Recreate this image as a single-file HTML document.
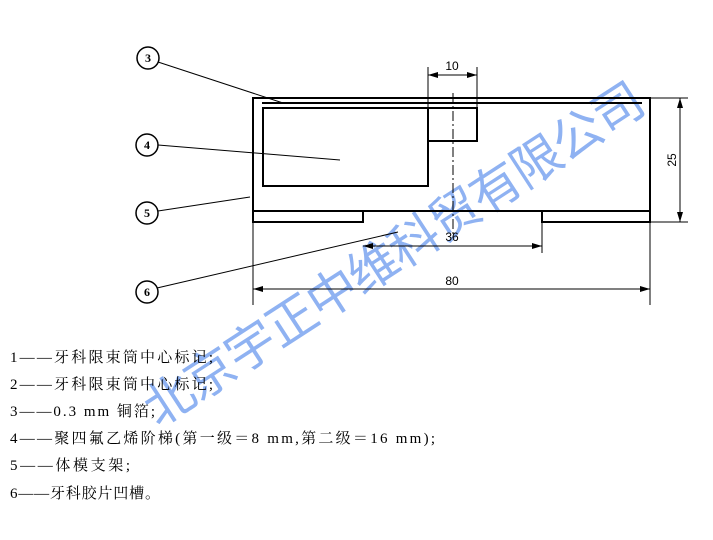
<!DOCTYPE html>
<html><head><meta charset="utf-8"><style>
html,body{margin:0;padding:0;background:#fff;width:713px;height:540px;overflow:hidden}
svg{display:block}
</style></head><body>
<svg width="713" height="540" xmlns="http://www.w3.org/2000/svg" font-family="'Liberation Serif','Noto Serif CJK SC',serif">
<defs><marker id="a" markerWidth="10" markerHeight="6" refX="10" refY="3" orient="auto-start-reverse" markerUnits="userSpaceOnUse"><path d="M0,0 L10,3 L0,6 z" fill="#000"/></marker></defs>
<text transform="translate(158,428) rotate(-33)" font-size="50" fill="#8fb2f2" font-family="'Noto Sans CJK SC',sans-serif" textLength="585" lengthAdjust="spacing">北京宇正中维科贸有限公司</text>
<g stroke="#000" fill="none">
<rect x="253" y="98" width="397" height="113" stroke-width="2"/>
<line x1="262" y1="103" x2="642" y2="103" stroke-width="2"/>
<rect x="263" y="108" width="165" height="78" stroke-width="2"/>
<rect x="428" y="108" width="49" height="33" stroke-width="2"/>
<polyline points="253,211 253,222 363,222 363,211" stroke-width="2"/>
<polyline points="542,211 542,222 650,222 650,211" stroke-width="2"/>
<line x1="453" y1="93" x2="453" y2="238" stroke-width="1" stroke-dasharray="10,3,2,3"/>
<g stroke-width="1">
<line x1="428" y1="67" x2="428" y2="108"/><line x1="477" y1="67" x2="477" y2="108"/>
<line x1="428" y1="75" x2="477" y2="75" marker-start="url(#a)" marker-end="url(#a)"/>
<line x1="650" y1="98" x2="688" y2="98"/><line x1="650" y1="222" x2="688" y2="222"/>
<line x1="680" y1="98" x2="680" y2="222" marker-start="url(#a)" marker-end="url(#a)"/>
<line x1="542" y1="222" x2="542" y2="253"/>
<line x1="363" y1="246" x2="542" y2="246" marker-start="url(#a)" marker-end="url(#a)"/>
<line x1="253" y1="222" x2="253" y2="305"/><line x1="650" y1="222" x2="650" y2="305"/>
<line x1="253" y1="289" x2="650" y2="289" marker-start="url(#a)" marker-end="url(#a)"/>
<line x1="158" y1="62" x2="283" y2="103"/>
<line x1="158" y1="145" x2="340" y2="160"/>
<line x1="158" y1="211" x2="250" y2="197"/>
<line x1="157" y1="288" x2="398" y2="232"/>
</g>
<g stroke-width="1.5">
<circle cx="148" cy="58" r="11"/><circle cx="147" cy="145" r="11"/>
<circle cx="147" cy="213" r="11"/><circle cx="147" cy="292" r="11"/>
</g>
</g>
<g font-size="12" font-weight="bold" text-anchor="middle" fill="#000">
<text x="148" y="62">3</text><text x="147" y="149">4</text><text x="147" y="217">5</text><text x="147" y="296">6</text>
</g>
<g font-size="12" font-family="'Liberation Sans',sans-serif" text-anchor="middle" fill="#000">
<text x="452" y="70">10</text><text x="452" y="241">36</text><text x="452" y="285">80</text>
<text transform="translate(676,160) rotate(-90)">25</text>
</g>
<g font-size="15" fill="#000">
<text x="10" y="362" textLength="203" lengthAdjust="spacing">1——牙科限束筒中心标记;</text>
<text x="10" y="389" textLength="203" lengthAdjust="spacing">2——牙科限束筒中心标记;</text>
<text x="10" y="416" textLength="145" lengthAdjust="spacing">3——0.3 mm 铜箔;</text>
<text x="10" y="443" textLength="425" lengthAdjust="spacing">4——聚四氟乙烯阶梯(第一级＝8 mm,第二级＝16 mm);</text>
<text x="10" y="470" textLength="120" lengthAdjust="spacing">5——体模支架;</text>
<text x="10" y="498" textLength="150" lengthAdjust="spacing">6——牙科胶片凹槽。</text>
</g>
</svg>
</body></html>
